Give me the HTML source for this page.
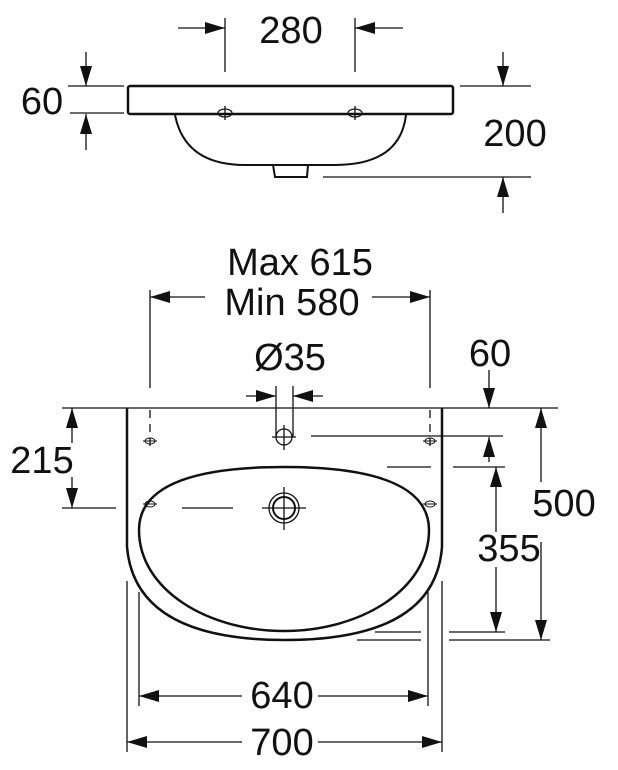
<!DOCTYPE html>
<html><head><style>body{margin:0;background:#fff}svg{display:block}</style></head><body>
<svg width="618" height="770" viewBox="0 0 618 770" xmlns="http://www.w3.org/2000/svg" font-family="Liberation Sans, sans-serif" font-size="38" fill="none" stroke="#111">
<defs>
<marker id="a" viewBox="0 0 20 12" refX="20" refY="6" markerWidth="20" markerHeight="12" markerUnits="userSpaceOnUse" orient="auto-start-reverse"><path d="M0,0 L20,6 L0,12z" fill="#111" stroke="none"/></marker>
</defs>
<g stroke-width="1.3">
<!-- top view -->
<rect x="128" y="86" width="325" height="28" rx="2" stroke-width="2.5"/>
<path d="M175 115 Q185 165 245 165 L335 165 Q400 165 406 115" stroke-width="2"/>
<path d="M273 165 L275 177 L307 177 L308 165" stroke-width="2"/>
<ellipse cx="225" cy="113" rx="7" ry="4"/><line x1="225" y1="106" x2="225" y2="120"/>
<ellipse cx="355" cy="113" rx="7" ry="4"/><line x1="355" y1="106" x2="355" y2="120"/>
<line x1="225" y1="18" x2="225" y2="72"/><line x1="355" y1="18" x2="355" y2="72"/>
<line x1="178" y1="28" x2="225" y2="28" marker-end="url(#a)"/>
<line x1="403" y1="28" x2="355" y2="28" marker-end="url(#a)"/>
<line x1="68" y1="86" x2="124" y2="86"/><line x1="70" y1="113" x2="124" y2="113"/>
<line x1="86" y1="52" x2="86" y2="86" marker-end="url(#a)"/>
<line x1="86" y1="150" x2="86" y2="114" marker-end="url(#a)"/>
<line x1="460" y1="86" x2="531" y2="86"/><line x1="323" y1="177" x2="531" y2="177"/>
<line x1="503" y1="52" x2="503" y2="86" marker-end="url(#a)"/>
<line x1="503" y1="213" x2="503" y2="177" marker-end="url(#a)"/>
<!-- front view -->
<line x1="62" y1="408" x2="558" y2="408"/>
<path d="M127 408 L127 547 Q135 640 285 640 Q435 640 442 547 L442 408" stroke-width="2.5"/>
<path d="M284 467 C385 467 429 490 429 530 C429 590 360 631 284 631 C208 631 139 590 139 530 C139 490 183 467 284 467Z" stroke-width="2.5"/>
<circle cx="284" cy="508" r="15"/><circle cx="284" cy="508" r="11" stroke-width="2"/>
<line x1="262" y1="508" x2="306" y2="508"/><line x1="284" y1="487" x2="284" y2="530"/>
<circle cx="284" cy="437" r="8"/><line x1="272" y1="437" x2="296" y2="437"/><line x1="284" y1="425" x2="284" y2="450"/>
<line x1="276" y1="386" x2="276" y2="437"/><line x1="293" y1="386" x2="293" y2="437"/>
<line x1="246" y1="396" x2="276" y2="396" marker-end="url(#a)"/>
<line x1="323" y1="396" x2="293" y2="396" marker-end="url(#a)"/>
<line x1="150" y1="290" x2="150" y2="388"/><line x1="430" y1="290" x2="430" y2="388"/>
<line x1="150" y1="297" x2="205" y2="297" marker-start="url(#a)"/>
<line x1="372" y1="297" x2="430" y2="297" marker-end="url(#a)"/>
<g stroke-dasharray="8,6"><line x1="150" y1="410" x2="150" y2="450"/><line x1="430" y1="410" x2="430" y2="450"/></g>
<g stroke-width="1"><ellipse cx="150" cy="441" rx="5" ry="3"/><line x1="143" y1="441" x2="157" y2="441"/><ellipse cx="430" cy="441" rx="5" ry="3"/><line x1="423" y1="441" x2="437" y2="441"/>
<ellipse cx="150" cy="504" rx="5" ry="3"/><line x1="143" y1="504" x2="157" y2="504"/><ellipse cx="430" cy="504" rx="5" ry="3"/><line x1="423" y1="504" x2="437" y2="504"/></g>
<line x1="62" y1="508" x2="116" y2="508"/><line x1="182" y1="508" x2="233" y2="508"/>
<line x1="72" y1="443" x2="72" y2="408" marker-end="url(#a)"/>
<line x1="72" y1="477" x2="72" y2="508" marker-end="url(#a)"/>
<line x1="489" y1="370" x2="489" y2="408" marker-end="url(#a)"/>
<line x1="311" y1="436" x2="503" y2="436"/>
<line x1="489" y1="462" x2="489" y2="437" marker-end="url(#a)"/>
<line x1="387" y1="467" x2="431" y2="467"/><line x1="453" y1="467" x2="505" y2="467"/>
<line x1="496" y1="532" x2="496" y2="467" marker-end="url(#a)"/>
<line x1="496" y1="567" x2="496" y2="632" marker-end="url(#a)"/>
<line x1="375" y1="632" x2="421" y2="632"/><line x1="449" y1="632" x2="505" y2="632"/>
<line x1="357" y1="640" x2="421" y2="640"/><line x1="449" y1="640" x2="550" y2="640"/>
<line x1="541" y1="482" x2="541" y2="408" marker-end="url(#a)"/>
<line x1="541" y1="542" x2="541" y2="640" marker-end="url(#a)"/>
<line x1="127" y1="581" x2="127" y2="752"/><line x1="442" y1="581" x2="442" y2="752"/>
<line x1="139" y1="592" x2="139" y2="706"/><line x1="428" y1="592" x2="428" y2="706"/>
<line x1="139" y1="696" x2="242" y2="696" marker-start="url(#a)"/>
<line x1="318" y1="696" x2="428" y2="696" marker-end="url(#a)"/>
<line x1="127" y1="742" x2="242" y2="742" marker-start="url(#a)"/>
<line x1="318" y1="742" x2="442" y2="742" marker-end="url(#a)"/>
</g>
<g fill="#111" stroke="none" text-anchor="middle">
<text x="291" y="43">280</text>
<text x="42" y="114">60</text>
<text x="515" y="146">200</text>
<text x="300" y="275">Max 615</text>
<text x="292" y="315">Min 580</text>
<text x="290" y="370">Ø35</text>
<text x="490" y="366">60</text>
<text x="42" y="473">215</text>
<text x="564" y="516">500</text>
<text x="509" y="561">355</text>
<text x="282" y="708">640</text>
<text x="282" y="755">700</text>
</g>
</svg>
</body></html>
